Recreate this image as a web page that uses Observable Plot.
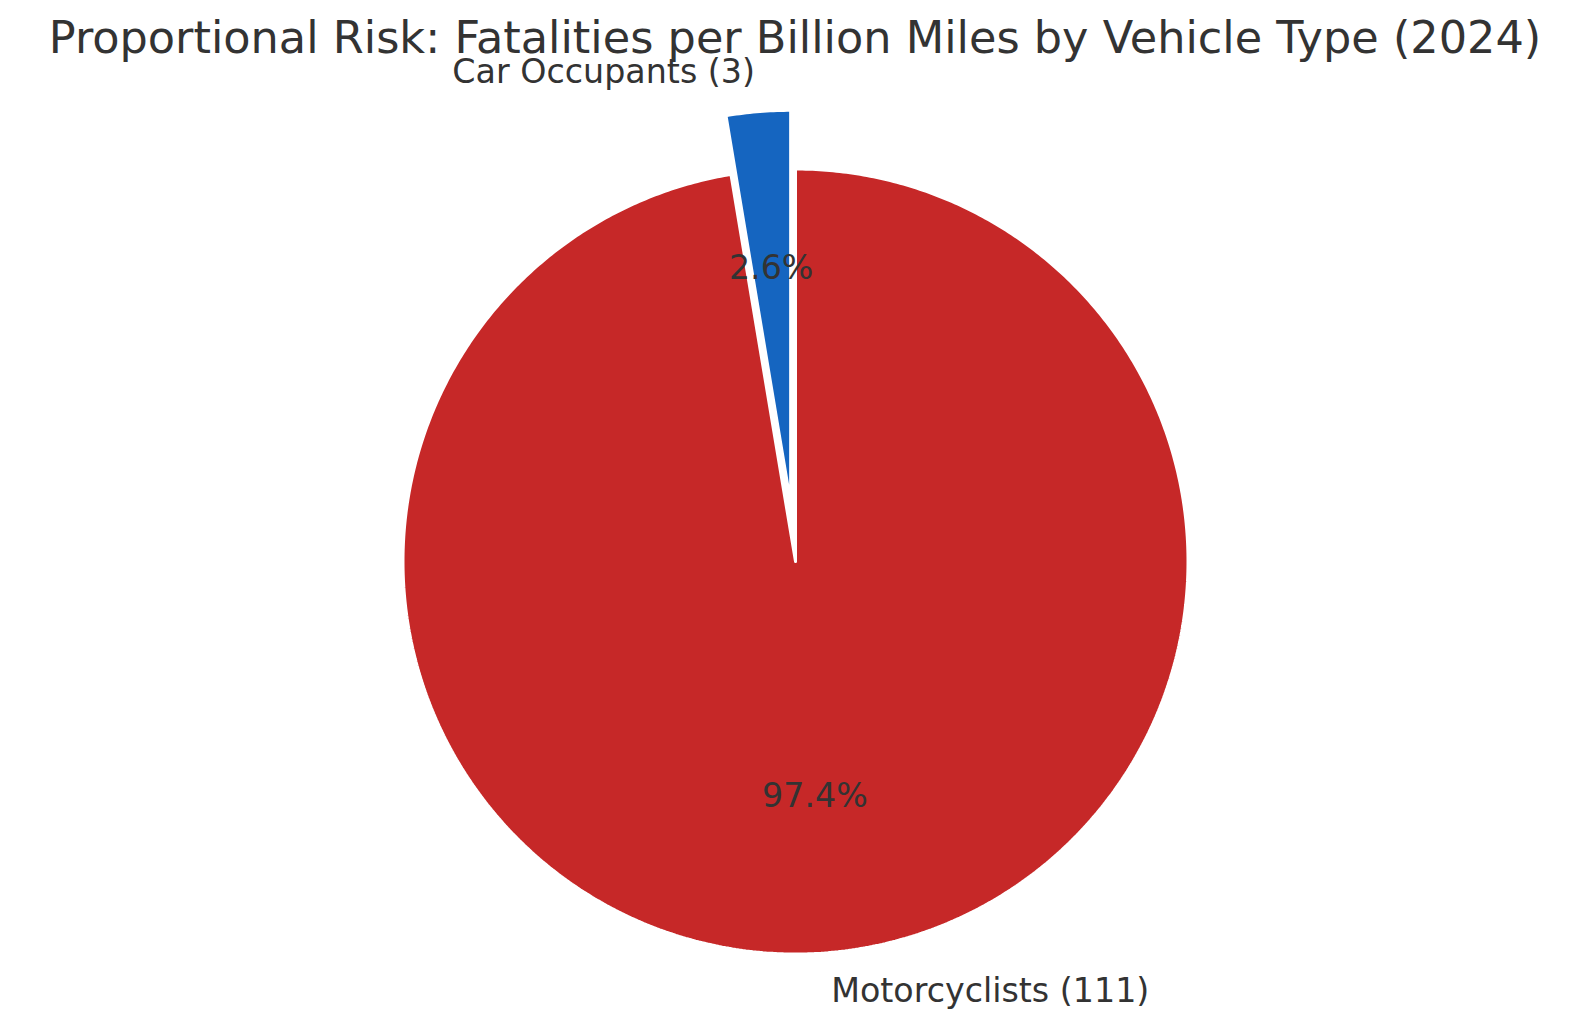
<!DOCTYPE html>
<html>
<head>
<meta charset="utf-8">
<script src="https://cdn.jsdelivr.net/npm/d3@7"></script>
<script src="https://cdn.jsdelivr.net/npm/@observablehq/plot@0.6"></script>
<style>
  html, body { margin: 0; padding: 0; background: #fff; }
  #chart svg { display: block; }
</style>
</head>
<body>
<div id="chart"></div>
<script>
// ---- data ----
const categories = ["Car Occupants", "Motorcyclists"];
const values = [3, 111];
const colors = ["#1565C0", "#C62828"];
const explode = [0.15, 0];
const title = "Proportional Risk: Fatalities per Billion Miles by Vehicle Type (2024)";

// ---- layout ----
const W = 1589, H = 1026;
const CX = 795, CY = 561, R = 392.5;   // pixel centre and radius of the pie
const startAngle = 90;                 // degrees, counter-clockwise
const labelDist = 1.1, pctDist = 0.6;
const textColor = "#333333";
const font = "DejaVu Sans, sans-serif";

// ---- derive slice geometry in data units (radius = 1) ----
const total = d3.sum(values);
const polys = [];
const labels = [];
let a0 = startAngle;
categories.forEach((name, i) => {
  const frac = values[i] / total;
  const a1 = a0 + 360 * frac;
  const mid = (a0 + a1) / 2 * Math.PI / 180;
  const ox = explode[i] * Math.cos(mid), oy = explode[i] * Math.sin(mid);
  const n = Math.max(4, Math.ceil((a1 - a0) / 0.5));
  polys.push({name, x: ox, y: oy, k: 0});
  for (let j = 0; j <= n; j++) {
    const t = (a0 + (a1 - a0) * j / n) * Math.PI / 180;
    polys.push({name, x: ox + Math.cos(t), y: oy + Math.sin(t), k: j + 1});
  }
  polys.push({name, x: ox, y: oy, k: n + 2});
  labels.push({
    name,
    text: `${name} (${values[i]})`,
    lx: ox + labelDist * Math.cos(mid),
    ly: oy + labelDist * Math.sin(mid),
    px: ox + pctDist * Math.cos(mid),
    py: oy + pctDist * Math.sin(mid),
    pct: (100 * frac).toFixed(1) + "%"
  });
  a0 = a1;
});

const chart = Plot.plot({
  width: W,
  height: H,
  margin: 0,
  style: {fontFamily: font, background: "#fff"},
  x: {domain: [-CX / R, (W - CX) / R], axis: null},
  y: {domain: [-(H - CY) / R, CY / R], axis: null},
  color: {domain: categories, range: colors},
  marks: [
    Plot.line(polys, {
      x: "x", y: "y", z: "name", fill: "name",
      stroke: "white", strokeWidth: 3, strokeLinejoin: "miter", curve: "linear"
    }),
    Plot.text(labels, {
      filter: d => d.lx < 0,
      x: "lx", y: "ly", text: "text", textAnchor: "end",
      fontSize: 33.3, fill: textColor
    }),
    Plot.text(labels, {
      filter: d => d.lx >= 0,
      x: "lx", y: "ly", text: "text", textAnchor: "start",
      fontSize: 33.3, fill: textColor
    }),
    Plot.text(labels, {
      x: "px", y: "py", text: "pct", textAnchor: "middle",
      fontSize: 33.3, fill: textColor
    }),
    Plot.text([title], {
      frameAnchor: "top", lineAnchor: "top", text: d => d,
      dy: 21, fontSize: 44.6, fill: textColor
    })
  ]
});
document.getElementById("chart").appendChild(chart);
</script>
</body>
</html>
